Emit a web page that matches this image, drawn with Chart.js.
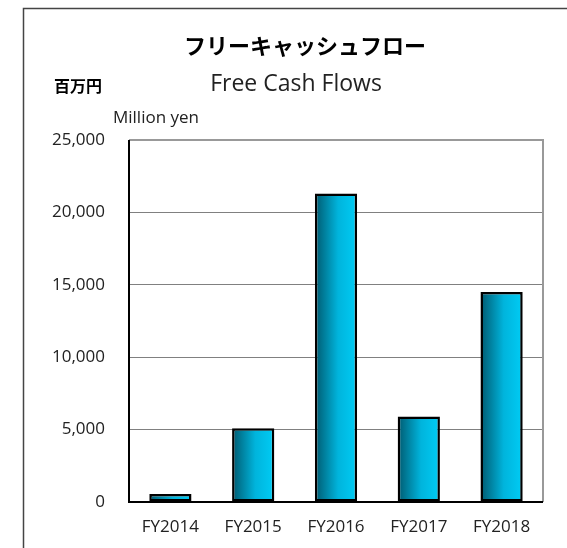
<!DOCTYPE html>
<html>
<head>
<meta charset="utf-8">
<script src="https://cdn.jsdelivr.net/npm/chart.js@4.4.0/dist/chart.umd.min.js"></script>
<style>
  html, body { margin: 0; padding: 0; background: #fff; }
  #wrap { width: 567px; height: 548px; position: relative; }
</style>
</head>
<body>
<div id="wrap"><canvas id="chart" width="567" height="548"></canvas></div>
<script>
// データ
const years = ["FY2014", "FY2015", "FY2016", "FY2017", "FY2018"];
const freeCashFlow = [550, 5100, 21300, 5900, 14500];
const yTicks = [0, 5000, 10000, 15000, 20000, 25000];

const jpFont = '"Noto Sans CJK JP", "Noto Sans", sans-serif';
const enFont = '"Open Sans", "Noto Sans", sans-serif';

// バーの横方向グラデーション
function barGradient(ctx) {
  const chart = ctx.chart;
  const xs = chart.scales.x;
  if (!xs || !chart.chartArea) return "#00b4dc";
  const cx = xs.getPixelForValue(ctx.dataIndex);
  const w = 21;
  const g = chart.ctx.createLinearGradient(cx - w, 0, cx + w, 0);
  g.addColorStop(0, "#005a70");
  g.addColorStop(0.55, "#00b4dc");
  g.addColorStop(1, "#00ccf5");
  return g;
}

// 枠とタイトルを描く
const decorPlugin = {
  id: "decor",
  beforeDraw(chart) {
    const c = chart.ctx;
    c.save();
    c.fillStyle = "#fff";
    c.fillRect(0, 0, chart.width, chart.height);
    // 外枠
    c.strokeStyle = "#444";
    c.lineWidth = 1.5;
    c.beginPath();
    c.moveTo(23.5, 548);
    c.lineTo(23.5, 8.5);
    c.lineTo(567, 8.5);
    c.stroke();
    c.restore();
  },
  afterDatasetsDraw(chart) {
    const c = chart.ctx;
    const a = chart.chartArea;
    c.save();
    // 右と上の枠線
    c.strokeStyle = "#999";
    c.lineWidth = 2;
    c.beginPath();
    c.moveTo(a.left, a.top);
    c.lineTo(a.right, a.top);
    c.lineTo(a.right, a.bottom);
    c.stroke();
    // 軸線
    c.strokeStyle = "#000";
    c.lineWidth = 2;
    c.beginPath();
    c.moveTo(a.left, a.top);
    c.lineTo(a.left, a.bottom);
    c.lineTo(a.right, a.bottom);
    c.stroke();
    c.restore();
  },
  afterDraw(chart) {
    const c = chart.ctx;
    c.save();
    c.fillStyle = "#000";
    c.textBaseline = "middle";
    c.textAlign = "center";
    c.font = "bold 22px " + jpFont;
    c.fillText("フリーキャッシュフロー", 305, 46);
    c.fillStyle = "#222";
    c.font = "23px " + enFont;
    c.fillText("Free Cash Flows", 296, 84);
    c.textAlign = "left";
    c.fillStyle = "#000";
    c.font = "bold 16px " + jpFont;
    c.fillText("百万円", 54, 86);
    c.fillStyle = "#222";
    c.font = "17px " + enFont;
    c.fillText("Million yen", 113, 118);
    c.restore();
  }
};

new Chart(document.getElementById("chart"), {
  type: "bar",
  data: {
    labels: years,
    datasets: [{
      data: freeCashFlow,
      backgroundColor: barGradient,
      borderColor: "#000",
      borderWidth: 2.5,
      borderSkipped: false,
      barPercentage: 0.51,
      categoryPercentage: 1.0
    }]
  },
  options: {
    responsive: false,
    animation: false,
    devicePixelRatio: 1,
    layout: { padding: { left: 0, top: 140, right: 24, bottom: 0 } },
    plugins: { legend: { display: false }, title: { display: false }, tooltip: { enabled: false } },
    scales: {
      x: {
        grid: { display: false, drawTicks: false },
        border: { display: false },
        ticks: { color: "#222", font: { family: enFont, size: 17 }, padding: 15 },
        afterFit(s) { s.height = 46; }
      },
      y: {
        min: 0,
        max: 25000,
        afterBuildTicks(s) { s.ticks = yTicks.map(v => ({ value: v })); },
        grid: { color: "#808080", lineWidth: 1, drawTicks: false },
        border: { display: false },
        ticks: {
          color: "#222",
          font: { family: enFont, size: 17 },
          padding: 24,
          callback: v => v.toLocaleString("en-US")
        },
        afterFit(s) { s.width = 129; }
      }
    }
  },
  plugins: [decorPlugin]
});
</script>
</body>
</html>
